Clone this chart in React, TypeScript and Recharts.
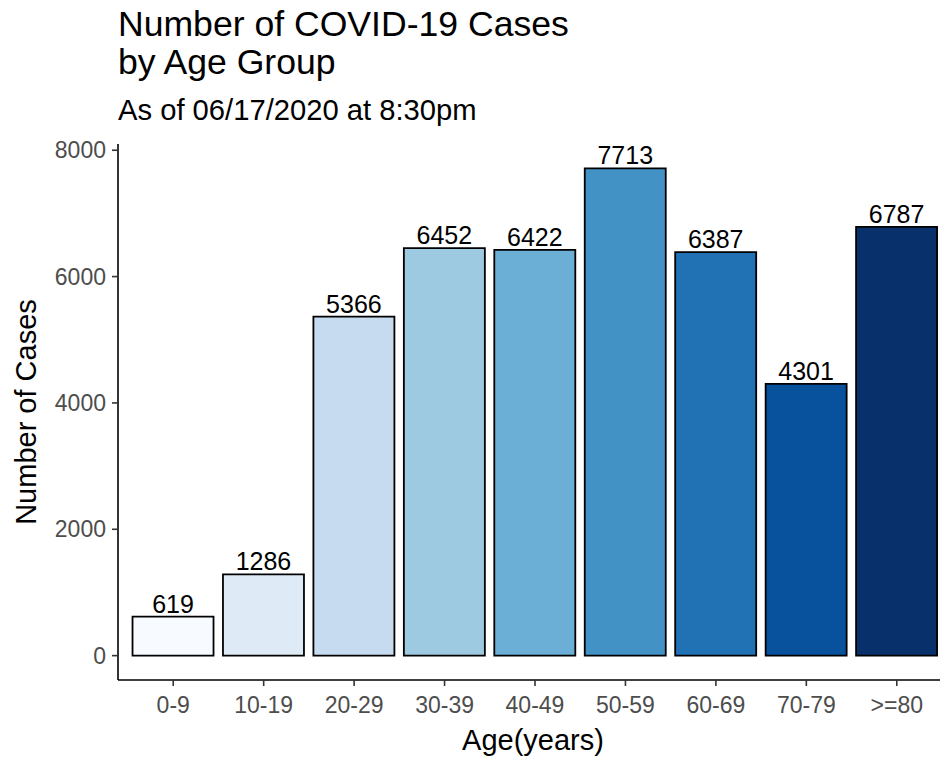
import { BarChart, Bar, XAxis, YAxis, Cell, LabelList } from 'recharts'

const ageGroups = ['0-9', '10-19', '20-29', '30-39', '40-49', '50-59', '60-69', '70-79', '>=80']
const cases = [619, 1286, 5366, 6452, 6422, 7713, 6387, 4301, 6787]
const blues = ['#F7FBFF', '#DEEBF7', '#C6DBEF', '#9ECAE1', '#6BAED6', '#4292C6', '#2171B5', '#08519C', '#08306B']
const yTicks = [0, 2000, 4000, 6000, 8000]

const data = ageGroups.map((age, i) => ({ age, cases: cases[i] }))

const font = '"Liberation Sans", Arial, sans-serif'

export default function App() {
  return (
    <div style={{ position: 'absolute', left: 0, top: 0, width: 940, height: 758, overflow: 'hidden', background: '#fff' }}>
      <BarChart
        width={952}
        height={758}
        data={data}
        margin={{ top: 144, right: 0, bottom: 28, left: 0 }}
        barCategoryGap="5%"
        style={{ fontFamily: font }}
      >
        <XAxis
          dataKey="age"
          padding={{ left: 10, right: 10 }}
          height={50}
          tickSize={6}
          tickMargin={11}
          axisLine={{ stroke: '#000', strokeWidth: 1.6 }}
          tickLine={{ stroke: '#333', strokeWidth: 1.6 }}
          tick={{ fill: '#4D4D4D', fontSize: 23 }}
          interval={0}
        />
        <YAxis
          width={118}
          domain={[-385.65, 8098.65]}
          ticks={yTicks}
          allowDataOverflow
          tickSize={6}
          tickMargin={6}
          axisLine={{ stroke: '#000', strokeWidth: 1.6 }}
          tickLine={{ stroke: '#333', strokeWidth: 1.6 }}
          tick={{ fill: '#4D4D4D', fontSize: 23 }}
        />
        <Bar dataKey="cases" stroke="#000" strokeWidth={1.8} isAnimationActive={false}>
          {data.map((d, i) => (
            <Cell key={d.age} fill={blues[i]} />
          ))}
          <LabelList dataKey="cases" position="top" offset={4} fill="#000" fontSize={25} />
        </Bar>
      </BarChart>
      <svg
        width={940}
        height={758}
        style={{ position: 'absolute', left: 0, top: 0, pointerEvents: 'none', fontFamily: font }}
      >
        <text x={118} y={36} fontSize={35.6} fill="#000">Number of COVID-19 Cases</text>
        <text x={118} y={74} fontSize={35.6} fill="#000">by Age Group</text>
        <text x={118} y={120} fontSize={29.2} fill="#000">As of 06/17/2020 at 8:30pm</text>
        <text x={533} y={750} fontSize={29} fill="#000" textAnchor="middle">Age(years)</text>
        <text x={36} y={412} fontSize={29} fill="#000" textAnchor="middle" transform="rotate(-90 36 412)">
          Number of Cases
        </text>
      </svg>
    </div>
  )
}
